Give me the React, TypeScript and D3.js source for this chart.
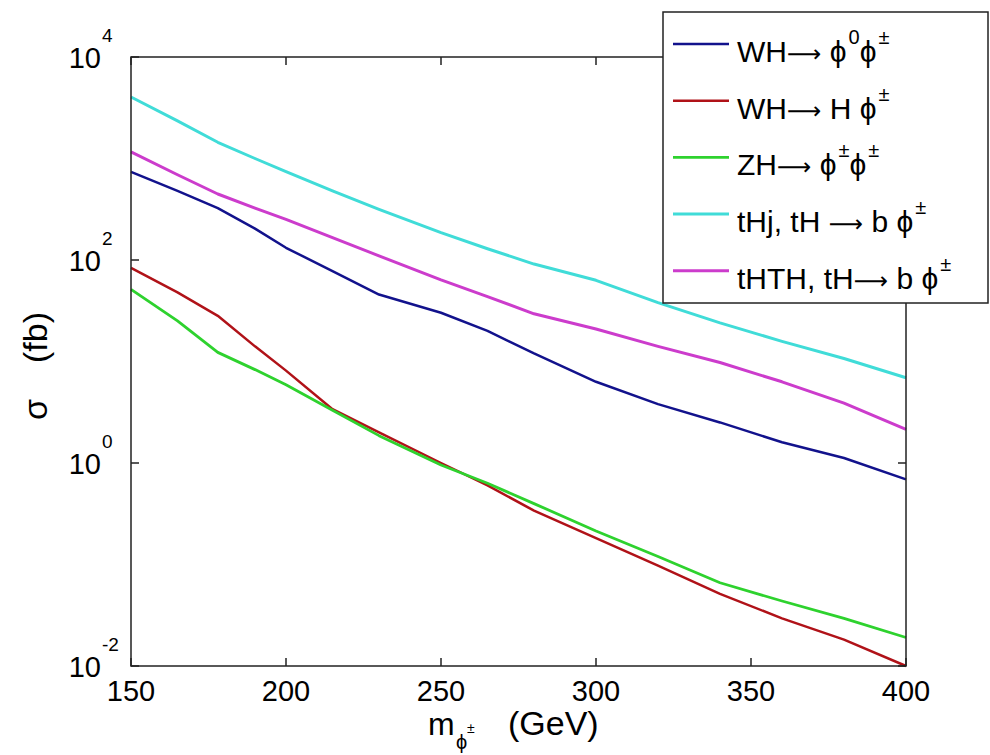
import React from 'react';
import * as d3 from 'd3';

// m_phi± (GeV)
const MASS = [150, 165, 178, 190, 200, 215, 230, 250, 265, 280, 300, 320, 340, 360, 380, 400];
// sigma (fb)
const WH_PHI0_PHIPM = [738, 479, 324, 204, 132, 77.6, 45.7, 30.2, 20.0, 12.0, 6.31, 3.8, 2.51, 1.6, 1.12, 0.69];
const WH_H_PHIPM = [83.8, 47.9, 28.2, 14.1, 8.13, 3.39, 2.0, 1.0, 0.603, 0.339, 0.182, 0.0977, 0.0513, 0.0295, 0.0182, 0.01];
const ZH_PHIPM_PHIPM = [51.3, 25.1, 12.3, 8.32, 5.89, 3.31, 1.86, 0.955, 0.631, 0.398, 0.214, 0.12, 0.0661, 0.0437, 0.0295, 0.0191];
const THJ = [4036, 2344, 1445, 1000, 741, 479, 316, 186, 129, 91.2, 63.1, 38.0, 24.0, 15.8, 10.7, 6.92];
const THTH = [1161, 692, 447, 324, 251, 166, 110, 63.8, 43.6, 29.5, 20.9, 14.1, 9.77, 6.31, 3.89, 2.14];

const X_TICKS = [150, 200, 250, 300, 350, 400];
const Y_EXPONENTS = [-2, 0, 2, 4];

type Seg = { t: string; sup?: boolean; arrow?: boolean };
const PHI = '\u03D5';
const PM = '\u00B1';
const ARROW = '\u27F6';
const SERIES: { name: Seg[]; values: number[]; color: string; width: number }[] = [
  { name: [{ t: 'WH' }, { t: ARROW, arrow: true }, { t: ' ' + PHI }, { t: '0', sup: true }, { t: PHI }, { t: PM, sup: true }], values: WH_PHI0_PHIPM, color: '#12128c', width: 2.5 },
  { name: [{ t: 'WH' }, { t: ARROW, arrow: true }, { t: ' H ' + PHI }, { t: PM, sup: true }], values: WH_H_PHIPM, color: '#b01218', width: 2.5 },
  { name: [{ t: 'ZH' }, { t: ARROW, arrow: true }, { t: ' ' + PHI }, { t: PM, sup: true }, { t: PHI }, { t: PM, sup: true }], values: ZH_PHIPM_PHIPM, color: '#2ed22e', width: 2.8 },
  { name: [{ t: 'tHj, tH ' }, { t: ARROW, arrow: true }, { t: ' b ' + PHI }, { t: PM, sup: true }], values: THJ, color: '#40dcd8', width: 3 },
  { name: [{ t: 'tHTH, tH' }, { t: ARROW, arrow: true }, { t: ' b ' + PHI }, { t: PM, sup: true }], values: THTH, color: '#cc3ccc', width: 3 },
];

const W = 990;
const H = 755;
const M = { left: 131, right: 906, top: 57, bottom: 666 };
const FONT = 'Liberation Sans, Arial, Helvetica, sans-serif';

function SegText({ segs, x, y, size, supSize }: { segs: Seg[]; x: number; y: number; size: number; supSize: number }) {
  let prevSup = false;
  return (
    <text x={x} y={y} fontSize={size} fontFamily={FONT} fill="#000">
      {segs.map((s, i) => {
        let dy = 0;
        if (s.sup && !prevSup) dy = -18;
        if (!s.sup && prevSup) dy = 18;
        prevSup = !!s.sup;
        return (
          <tspan
            key={i}
            dy={dy}
            fontSize={s.sup ? supSize : s.arrow ? 24 : size}
            fontFamily={s.arrow ? 'DejaVu Sans' : FONT}
            dx={s.sup ? 2 : 0}
          >
            {s.t}
          </tspan>
        );
      })}
    </text>
  );
}

export default function App() {
  const x = d3.scaleLinear().domain([150, 400]).range([M.left, M.right]);
  const y = d3.scaleLog().domain([1e-2, 1e4]).range([M.bottom, M.top]);
  const line = d3
    .line<[number, number]>()
    .x((d) => x(d[0]))
    .y((d) => y(d[1]));

  const tickLen = 8;
  const legend = { x0: 663, y0: 12, x1: 988, y1: 303, row0: 44, rowStep: 56.7 };

  return (
    <svg width={W} height={H} style={{ position: 'absolute', left: 0, top: 0, background: '#fff' }}>
      <rect x={0} y={0} width={W} height={H} fill="#fff" />
      {/* series */}
      <g>
        {SERIES.map((s, i) => (
          <path
            key={i}
            d={line(MASS.map((m, j) => [m, s.values[j]] as [number, number])) || ''}
            fill="none"
            stroke={s.color}
            strokeWidth={s.width}
            strokeLinejoin="round"
          />
        ))}
      </g>
      {/* frame */}
      <rect x={M.left} y={M.top} width={M.right - M.left} height={M.bottom - M.top} fill="none" stroke="#222" strokeWidth={1.5} />
      {/* x ticks */}
      {X_TICKS.map((t) => (
        <g key={t}>
          <line x1={x(t)} x2={x(t)} y1={M.bottom} y2={M.bottom - tickLen} stroke="#222" strokeWidth={1.5} />
          <line x1={x(t)} x2={x(t)} y1={M.top} y2={M.top + tickLen} stroke="#222" strokeWidth={1.5} />
          <text x={x(t)} y={701} textAnchor="middle" fontSize={29} fontFamily={FONT} fill="#000">
            {t}
          </text>
        </g>
      ))}
      {/* y ticks */}
      {Y_EXPONENTS.map((e) => {
        const yy = y(Math.pow(10, e));
        return (
          <g key={e}>
            <line x1={M.left} x2={M.left + tickLen} y1={yy} y2={yy} stroke="#222" strokeWidth={1.5} />
            <line x1={M.right} x2={M.right - tickLen} y1={yy} y2={yy} stroke="#222" strokeWidth={1.5} />
            <text x={101} y={yy + 11} textAnchor="end" fontSize={29} fontFamily={FONT} fill="#000">
              10
            </text>
            <text x={102} y={yy - 15} textAnchor="start" fontSize={19} fontFamily={FONT} fill="#000">
              {e}
            </text>
          </g>
        );
      })}
      {/* x label */}
      <text x={428} y={735} fontSize={32} fontFamily={FONT} fill="#000">m</text>
      <text x={456} y={749} fontSize={20} fontFamily={FONT} fill="#000">{PHI}</text>
      <text x={467} y={733} fontSize={14} fontFamily={FONT} fill="#000">{PM}</text>
      <text x={508} y={735} fontSize={34} fontFamily={FONT} fill="#000">(GeV)</text>
      {/* y label */}
      <g transform="rotate(-90)">
        <text x={-420} y={47} fontSize={34} fontFamily={FONT} fill="#000">{'\u03C3'}</text>
        <text x={-363} y={47} fontSize={34} fontFamily={FONT} fill="#000">(fb)</text>
      </g>
      {/* legend */}
      <rect x={legend.x0} y={legend.y0} width={legend.x1 - legend.x0} height={legend.y1 - legend.y0} fill="#fff" stroke="#222" strokeWidth={1.5} />
      {SERIES.map((s, i) => {
        const ly = legend.row0 + i * legend.rowStep;
        return (
          <g key={i}>
            <line x1={673} x2={729} y1={ly} y2={ly} stroke={s.color} strokeWidth={s.width} />
            <SegText segs={s.name} x={737} y={ly + 18} size={30} supSize={20} />
          </g>
        );
      })}
    </svg>
  );
}
